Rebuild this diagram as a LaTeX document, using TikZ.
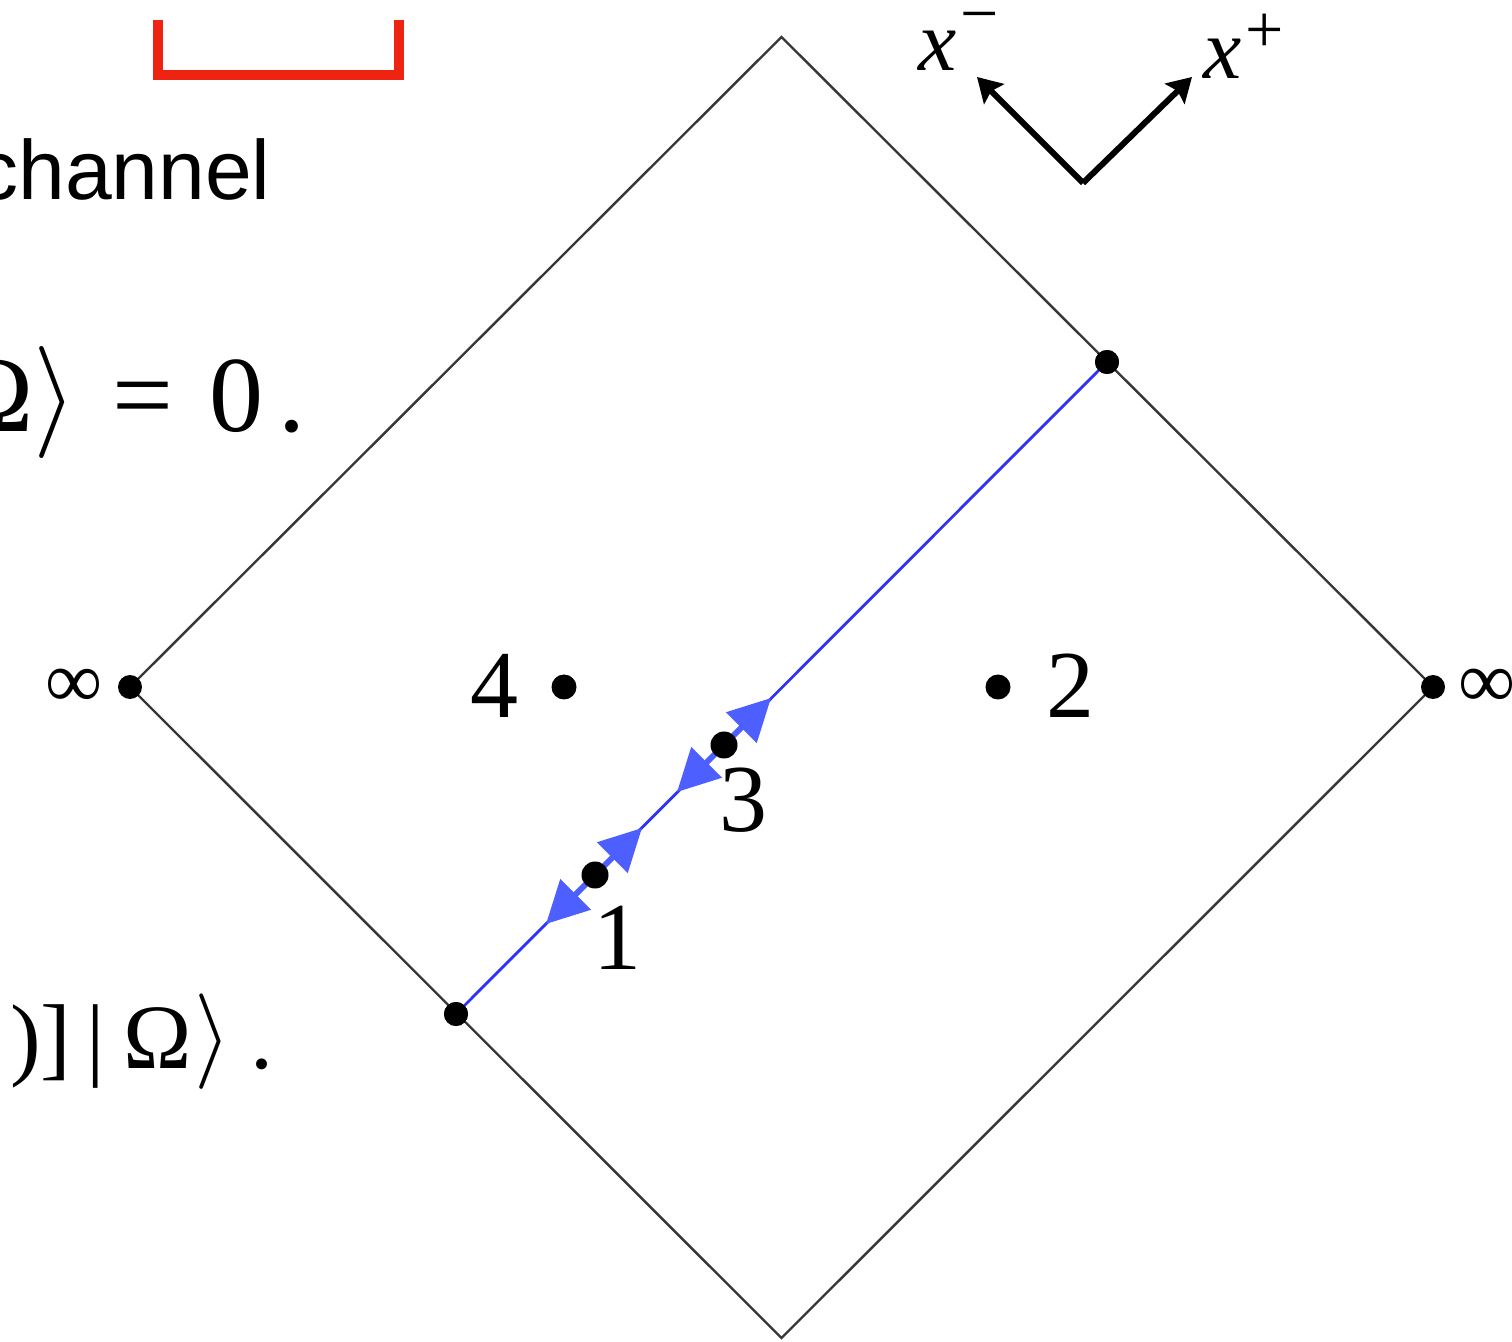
\documentclass[tikz,border=0pt]{standalone}
\usepackage{graphicx}
\usepackage{fontspec}
\setmainfont{Liberation Serif}
\newfontfamily\sansf{Liberation Sans}
\usetikzlibrary{arrows.meta}
\definecolor{diamondgray}{RGB}{55,55,55}
\definecolor{thinblue}{RGB}{45,50,245}
\definecolor{arrowblue}{RGB}{78,95,255}
\definecolor{bracketred}{RGB}{238,35,17}
\newcommand{\bigang}[1]{\scalebox{#1}{\fontsize{20}{22}\selectfont$\rangle$}}
\tikzset{
  frame/.style={draw=diamondgray, line width=1.2pt, line join=miter},
  dotv/.style={circle, fill=black, inner sep=0pt, minimum size=12pt},
  dotb/.style={circle, fill=black, inner sep=0pt, minimum size=13.5pt},
  numlab/.style={inner sep=0pt, font=\fontsize{48}{50}\selectfont},
  inflab/.style={inner sep=0pt, font=\fontsize{40}{42}\selectfont},
  blueline/.style={draw=thinblue, line width=1.4pt},
  bluearrow/.style={draw=arrowblue, fill=arrowblue, line width=3pt,
     {Triangle[length=21pt,width=21pt]}-{Triangle[length=21pt,width=21pt]}},
  axisarrow/.style={draw=black, line width=3pt, -{Stealth[length=12pt,width=14pt,inset=2pt]}},
  axlab/.style={inner sep=0pt, font=\fontsize{43}{45}\selectfont\itshape},
  suplab/.style={inner sep=0pt, font=\fontsize{34}{36}\selectfont},
  eqa/.style={inner sep=0pt, font=\fontsize{54}{56}\selectfont},
  eqb/.style={inner sep=0pt, font=\fontsize{46}{48}\selectfont},
  chan/.style={inner sep=0pt, font=\sansf\fontsize{42}{44}\selectfont},
  bracket/.style={draw=bracketred, line width=5pt, line join=miter}
}
\begin{document}
\begin{tikzpicture}[x=0.5pt,y=-0.5pt]
\useasboundingbox (0,0) rectangle (1512,1342);
\clip (0,0) rectangle (1512,1342);
\fill[white] (0,0) rectangle (1512,1342);

% left cut-off text
\coordinate (brA) at (158,20);
\coordinate (brB) at (158,75);
\coordinate (brC) at (398.5,75);
\coordinate (brD) at (398.5,20);
\draw[bracket] (brA) -- (brB) -- (brC) -- (brD);
\node[chan, anchor=base east] (chtext) at (271,200) {channel};

\node[eqa, anchor=base east] (e1om) at (34,432) {Ω};
\node[inner sep=0pt, anchor=center] (e1ang) at (55,403) {\bigang{2.7}};
\node[eqa, anchor=base] (e1eq) at (143,432) {=};
\node[eqa, anchor=base] (e1zero) at (236,432) {0};
\node[eqa, anchor=base] (e1dot) at (292,432) {.};

\node[eqb, anchor=base] (e2par) at (26,1068) {)};
\node[eqb, anchor=base] (e2brk) at (56,1068) {]};
\node[eqb, anchor=base] (e2bar) at (96,1068) {|};
\node[eqb, anchor=base] (e2om) at (158,1068) {Ω};
\node[inner sep=0pt, anchor=center] (e2ang) at (213,1042) {\bigang{2.3}};
\node[eqb, anchor=base] (e2dot) at (262,1068) {.};

% diamond
\coordinate (T) at (781.5,37);
\coordinate (R) at (1433,687);
\coordinate (B) at (781.5,1338);
\coordinate (L) at (130,687);
\draw[frame] (T) -- (R) -- (B) -- (L) -- cycle;

% blue line between boundary points
\node[dotv] (pB) at (1107,362) {};
\node[dotv] (pA) at (456,1014) {};
\draw[blueline] (pA.center) -- (pB.center);
\node[dotv] at (pB) {};
\node[dotv] at (pA) {};

% arrows around points 1 and 3
\coordinate (a1l) at (546,924);
\coordinate (a1r) at (642,828);
\coordinate (a3l) at (677,792);
\coordinate (a3r) at (771,698);
\draw[bluearrow] (a1l) -- (a1r);
\draw[bluearrow] (a3l) -- (a3r);
\node[dotb] (p1) at (595,875) {};
\node[dotb] (p3) at (724,745) {};
\node[numlab] (l1) at (617,938) {1};
\node[numlab] (l3) at (743,800) {3};

% points 4 and 2
\node[dotv, minimum size=12.5pt] (p4) at (564,687) {};
\node[dotv, minimum size=12.5pt] (p2) at (998,687) {};
\node[numlab] (l4) at (494.5,686) {4};
\node[numlab] (l2) at (1070.5,686) {2};

% infinity points
\node[dotv] (pL) at (L) {};
\node[dotv] (pR) at (R) {};
\node[inflab] (infL) at (74,688) {∞};
\node[inflab, anchor=west] (infR) at (1458,688) {∞};

% light-cone axes
\coordinate (ax0) at (1083,183);
\coordinate (axm) at (977,77);
\coordinate (axp) at (1192,77);
\draw[axisarrow, line cap=butt] (ax0) -- (axm);
\draw[axisarrow, line cap=butt] (ax0) -- (axp);
\node[axlab] (xm) at (938,51) {x};
\node[suplab] (xmsup) at (980,24) {−};
\node[axlab] (xp) at (1223,59) {x};
\node[suplab] (xpsup) at (1265,33) {+};
\end{tikzpicture}
\end{document}
